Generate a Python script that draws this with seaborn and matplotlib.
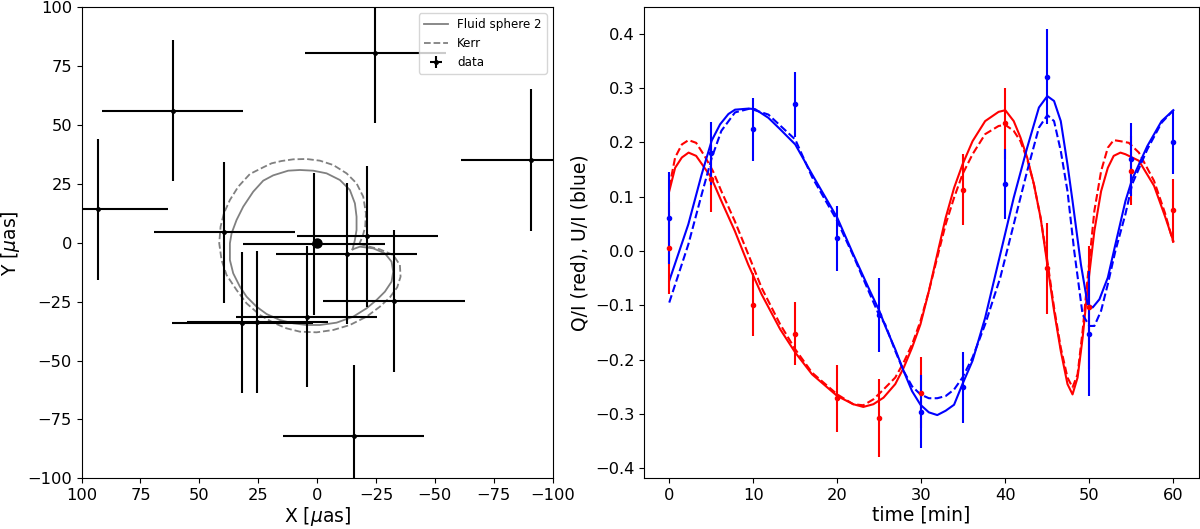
import numpy as np
import pandas as pd
import matplotlib
matplotlib.use("Agg")
import matplotlib.pyplot as plt
import seaborn as sns

# ---------------- left panel data ----------------
fs2_x = [-15.06, -18.17, -23.83, -28.79, -31.62, -32.32, -31.62, -28.79, -25.25, -21.0, -15.34, -8.26,
         -1.19, 4.48, 10.14, 15.80, 21.46, 25.71, 29.95, 32.78, 35.62, 37.03, 37.03, 36.32, 34.20, 31.37,
         27.12, 22.88, 18.63, 12.26, 7.31, 1.65, -4.02, -9.68, -13.92, -16.05, -16.75, -16.75, -16.05, -15.06]
fs2_y = [-2.77, -1.64, -2.35, -4.47, -8.01, -12.25, -16.50, -20.75, -24.28, -27.82, -31.36, -33.91,
         -34.9, -34.9, -34.19, -32.78, -30.23, -27.12, -22.87, -18.62, -12.96, -7.3, -0.22, 4.0, 9.69, 15.35,
         21.72, 26.39, 28.65, 30.63, 30.92, 30.63, 29.50, 26.67, 22.43, 16.76, 11.10, 5.44, 1.19, -2.77]

kerr_x = [-17.9, -21.0, -26.66, -32.32, -35.16, -35.44, -34.02, -30.91, -26.66, -21.0, -13.92, -6.85,
          0.23, 7.31, 12.97, 18.63, 24.29, 29.95, 34.2, 38.45, 40.57, 41.56, 40.99, 39.58, 37.03, 33.49,
          28.54, 22.88, 19.34, 15.09, 10.14, 4.48, -1.19, -6.85, -12.51, -16.75, -19.59, -20.72, -20.44,
          -19.30, -17.9]
kerr_y = [-0.51, -1.35, -2.77, -5.18, -9.42, -14.38, -18.90, -23.15, -27.12, -31.36, -34.9, -37.02,
          -38.01, -37.73, -36.32, -33.91, -30.65, -25.70, -20.04, -13.67, -7.3, -0.22, 6.85, 12.52, 18.18,
          23.84, 29.22, 32.05, 33.75, 34.74, 35.45, 35.59, 34.88, 33.04, 29.50, 25.26, 19.59, 12.52, 6.85,
          2.61, -0.51]

pos_x = [93.2, 61.4, -24.7, -90.9, 39.4, -21.3, 1.3, -12.6, -32.7, 4.5, 31.8, 25.4, -15.6]
pos_y = [14.2, 56.1, 80.7, 35.2, 4.5, 2.8, -0.5, -4.6, -24.7, -31.4, -33.9, -33.6, -81.9]
pos_xerr = [30] * 13
pos_yerr = [30] * 13

# ---------------- right panel data ----------------
time_obs = [0, 5, 10, 15, 20, 25, 30, 35, 40, 45, 50, 55, 60]
q_obs = [0.005, 0.133, -0.099, -0.152, -0.271, -0.307, -0.261, 0.113, 0.235, -0.032, -0.104, 0.148, 0.075]
q_err = [0.085, 0.062, 0.058, 0.058, 0.062, 0.072, 0.065, 0.065, 0.065, 0.084, 0.113, 0.063, 0.057]
u_obs = [0.061, 0.180, 0.224, 0.270, 0.023, -0.118, -0.296, -0.251, 0.123, 0.321, -0.152, 0.169, 0.200]
u_err = [0.085, 0.058, 0.058, 0.060, 0.060, 0.068, 0.067, 0.065, 0.065, 0.088, 0.115, 0.067, 0.058]

q_fs_t = [0, 0.7, 1.5, 2.3, 3.2, 4.2, 5.0, 6.2, 7.8, 9.4, 11.0, 13.2, 15.0, 17.0, 20.0, 21.9, 23.1, 24.3,
          25.5, 26.9, 27.9, 28.9, 29.9, 30.9, 31.9, 32.9, 33.9, 34.9, 36.1, 37.6, 39.2, 40.0, 41.0, 41.8,
          42.6, 43.4, 44.2, 45.0, 45.8, 46.6, 47.4, 48.0, 48.6, 49.2, 49.8, 50.6, 51.4, 52.2, 52.9, 53.7,
          54.3, 55.9, 57.7, 59.0, 60.0]
q_fs_v = [0.110, 0.153, 0.172, 0.181, 0.175, 0.153, 0.135, 0.092, 0.037, -0.025, -0.080, -0.144, -0.187,
          -0.227, -0.267, -0.282, -0.287, -0.282, -0.270, -0.245, -0.215, -0.178, -0.135, -0.074, -0.006,
          0.061, 0.116, 0.159, 0.202, 0.239, 0.256, 0.259, 0.239, 0.209, 0.172, 0.123, 0.061, -0.025,
          -0.110, -0.184, -0.245, -0.264, -0.233, -0.160, -0.068, 0.037, 0.110, 0.153, 0.175, 0.181,
          0.178, 0.166, 0.120, 0.064, 0.018]

q_kerr_t = [0, 0.7, 1.5, 2.3, 3.2, 4.2, 5.2, 6.2, 7.8, 9.4, 11.0, 13.2, 15.0, 17.0, 20.0, 21.9, 23.1,
            24.3, 25.5, 26.9, 27.9, 28.9, 29.9, 30.9, 31.9, 32.9, 33.9, 34.9, 36.1, 37.6, 39.2, 40.0,
            41.0, 41.8, 42.6, 43.4, 44.2, 45.0, 45.8, 46.6, 47.4, 48.0, 48.6, 49.2, 49.8, 50.6, 51.4,
            52.2, 52.9, 53.7, 54.7, 55.9, 57.7, 59.0, 60.0]
q_kerr_v = [0.117, 0.172, 0.196, 0.204, 0.199, 0.175, 0.147, 0.110, 0.055, -0.006, -0.068, -0.135,
            -0.181, -0.224, -0.264, -0.282, -0.284, -0.273, -0.255, -0.233, -0.205, -0.172, -0.129,
            -0.074, -0.012, 0.049, 0.098, 0.141, 0.178, 0.215, 0.230, 0.232, 0.221, 0.202, 0.169,
            0.123, 0.061, -0.018, -0.104, -0.178, -0.233, -0.251, -0.227, -0.147, -0.049, 0.074,
            0.147, 0.190, 0.204, 0.202, 0.199, 0.181, 0.129, 0.070, 0.015]

u_fs_t = [0, 2.27, 3.86, 5.05, 6.05, 7.04, 7.83, 9.42, 10.22, 11.8, 13.2, 15.0, 17.0, 20.0, 21.9, 23.9,
          25.0, 25.7, 26.9, 27.9, 28.9, 29.9, 30.9, 31.9, 32.9, 33.9, 34.9, 36.1, 37.6, 39.4, 41.0, 42.6,
          44.0, 45.0, 45.8, 46.6, 47.4, 48.0, 49.0, 49.8, 50.4, 51.2, 52.2, 53.1, 54.3, 55.1, 56.9, 58.6,
          60.0]
u_fs_v = [-0.055, 0.049, 0.141, 0.203, 0.233, 0.252, 0.260, 0.262, 0.261, 0.245, 0.224, 0.196, 0.141,
          0.061, -0.006, -0.074, -0.110, -0.138, -0.181, -0.221, -0.258, -0.283, -0.297, -0.302, -0.294,
          -0.283, -0.245, -0.202, -0.123, -0.006, 0.098, 0.190, 0.264, 0.285, 0.276, 0.239, 0.159, 0.092,
          -0.025, -0.098, -0.104, -0.089, -0.049, 0.012, 0.092, 0.132, 0.193, 0.239, 0.259]

u_kerr_t = [0, 2.27, 3.86, 5.05, 6.2, 7.83, 9.6, 11.8, 15.0, 17.0, 20.0, 22.0, 23.9, 25.0, 25.7, 26.9,
            27.9, 28.9, 29.9, 30.9, 31.9, 32.9, 33.9, 34.9, 36.1, 37.6, 39.4, 41.0, 42.6, 44.0, 45.0,
            45.8, 46.6, 47.4, 48.2, 49.2, 50.0, 50.6, 51.4, 52.2, 53.1, 54.3, 55.1, 56.9, 58.6, 60.0]
u_kerr_v = [-0.095, 0.012, 0.104, 0.171, 0.221, 0.255, 0.262, 0.251, 0.205, 0.136, 0.055, -0.012,
            -0.080, -0.119, -0.135, -0.184, -0.221, -0.249, -0.264, -0.271, -0.271, -0.267, -0.255,
            -0.233, -0.196, -0.135, -0.049, 0.049, 0.147, 0.227, 0.250, 0.239, 0.184, 0.110, 0.0,
            -0.117, -0.138, -0.138, -0.110, -0.061, 0.0, 0.068, 0.123, 0.187, 0.236, 0.259]

# ---------------- figure ----------------
TICK = 11.7
LABEL = 13.5
fig = plt.figure(figsize=(12, 5.29), dpi=100)
ax1 = fig.add_axes([0.068, 0.0958, 0.3925, 0.8904])
ax2 = fig.add_axes([0.5367, 0.0958, 0.4621, 0.8904])

# left panel
sns.lineplot(x=fs2_x, y=fs2_y, sort=False, estimator=None, color="gray", lw=1.3,
             label="Fluid sphere 2", ax=ax1)
sns.lineplot(x=kerr_x, y=kerr_y, sort=False, estimator=None, color="gray", lw=1.3,
             linestyle="--", label="Kerr", ax=ax1)
ax1.errorbar(pos_x, pos_y, xerr=pos_xerr, yerr=pos_yerr, fmt="o", ms=2.5, color="black",
             ecolor="black", elinewidth=1.5, label="data")
ax1.plot([0], [0], "o", color="black", ms=6.5)
ax1.set_xlim(100, -100)
ax1.set_ylim(-100, 100)
ax1.set_xticks([100, 75, 50, 25, 0, -25, -50, -75, -100])
ax1.set_yticks([-100, -75, -50, -25, 0, 25, 50, 75, 100])
ax1.set_xlabel(r"X [$\mu$as]", fontsize=LABEL, labelpad=1.5)
ax1.set_ylabel(r"Y [$\mu$as]", fontsize=LABEL)
ax1.tick_params(labelsize=TICK)
ax1.legend(loc="upper right", fontsize=8.6)

# right panel
sns.lineplot(x=q_fs_t, y=q_fs_v, sort=False, estimator=None, color="red", lw=1.5, ax=ax2)
sns.lineplot(x=q_kerr_t, y=q_kerr_v, sort=False, estimator=None, color="red", lw=1.5,
             linestyle="--", ax=ax2)
sns.lineplot(x=u_fs_t, y=u_fs_v, sort=False, estimator=None, color="blue", lw=1.5, ax=ax2)
sns.lineplot(x=u_kerr_t, y=u_kerr_v, sort=False, estimator=None, color="blue", lw=1.5,
             linestyle="--", ax=ax2)
ax2.errorbar(time_obs, q_obs, yerr=q_err, fmt="o", ms=3, color="red", elinewidth=1.5)
ax2.errorbar(time_obs, u_obs, yerr=u_err, fmt="o", ms=3, color="blue", elinewidth=1.5)
ax2.set_xticks([0, 10, 20, 30, 40, 50, 60])
ax2.set_yticks([-0.4, -0.3, -0.2, -0.1, 0.0, 0.1, 0.2, 0.3, 0.4])
ax2.set_xlabel("time [min]", fontsize=LABEL, labelpad=1.5)
ax2.set_ylabel("Q/I (red), U/I (blue)", fontsize=LABEL)
ax2.tick_params(labelsize=TICK)
if ax2.get_legend() is not None:
    ax2.get_legend().remove()

fig.savefig("out.png", dpi=100)
